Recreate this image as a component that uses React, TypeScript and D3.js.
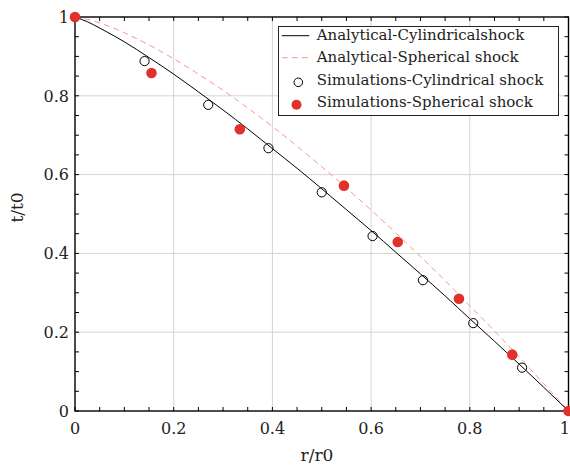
import React from "react";
import * as d3 from "d3";

const rGrid = [0, 0.025, 0.05, 0.1, 0.15, 0.2, 0.25, 0.3, 0.35, 0.4, 0.45, 0.5, 0.55, 0.6, 0.65, 0.7, 0.75, 0.8, 0.85, 0.9, 0.95, 1];
const analyticalCyl = [1, 0.988, 0.972, 0.937, 0.897, 0.855, 0.81, 0.764, 0.716, 0.666, 0.616, 0.564, 0.511, 0.458, 0.403, 0.348, 0.292, 0.234, 0.177, 0.119, 0.06, 0];
const analyticalSph = [1, 0.994, 0.985, 0.96, 0.929, 0.894, 0.855, 0.814, 0.769, 0.722, 0.672, 0.62, 0.566, 0.51, 0.452, 0.392, 0.331, 0.267, 0.203, 0.137, 0.069, 0];

const simCylR = [0.141, 0.27, 0.392, 0.5, 0.603, 0.705, 0.807, 0.906];
const simCylT = [0.888, 0.777, 0.667, 0.555, 0.444, 0.332, 0.223, 0.11];
const simSphR = [0, 0.155, 0.334, 0.545, 0.654, 0.778, 0.886, 1];
const simSphT = [1, 0.858, 0.715, 0.572, 0.429, 0.285, 0.143, 0];

const majorTicks = [0, 0.2, 0.4, 0.6, 0.8, 1];
const tickLabels = ["0", "0.2", "0.4", "0.6", "0.8", "1"];
const minorTicks = d3.range(0, 21).map((i) => i / 20);

const legendLabels = [
  "Analytical-Cylindricalshock",
  "Analytical-Spherical shock",
  "Simulations-Cylindrical shock",
  "Simulations-Spherical shock",
];

const W = 570;
const H = 466;
const L = 75;
const R = 568.5;
const T = 17;
const B = 411;
const RED = "#e0312b";
const DASH = "#f39a94";
const FONT = "DejaVu Serif";

export default function App() {
  const x = d3.scaleLinear().domain([0, 1]).range([L, R]);
  const y = d3.scaleLinear().domain([0, 1]).range([B, T]);
  const line = d3
    .line<number>()
    .x((_, i) => x(rGrid[i]))
    .y((d) => y(d))
    .curve(d3.curveMonotoneX);

  const tl = 4;
  const lx = 278.5;
  const ly = 26.5;
  const rowY = [35.7, 57.7, 80.3, 102.7];

  return (
    <svg width={W} height={H} style={{ position: "absolute", left: 0, top: 0, background: "#fff", fontFamily: FONT }}>
      <rect x={0} y={0} width={W} height={H} fill="#fff" />
      {majorTicks.slice(1, -1).map((v) => (
        <g key={"g" + v}>
          <line x1={x(v)} x2={x(v)} y1={T} y2={B} stroke="#d4d4d4" strokeWidth={1} />
          <line x1={L} x2={R} y1={y(v)} y2={y(v)} stroke="#d4d4d4" strokeWidth={1} />
        </g>
      ))}
      <path d={line(analyticalSph) || ""} fill="none" stroke={DASH} strokeWidth={1} strokeDasharray="6,4" />
      <path d={line(analyticalCyl) || ""} fill="none" stroke="#000" strokeWidth={1} />
      {minorTicks.map((v) => (
        <g key={"t" + v} stroke="#000" strokeWidth={1}>
          <line x1={x(v)} x2={x(v)} y1={B} y2={B - tl} />
          <line x1={x(v)} x2={x(v)} y1={T} y2={T + tl} />
          <line x1={L} x2={L + tl} y1={y(v)} y2={y(v)} />
          <line x1={R} x2={R - tl} y1={y(v)} y2={y(v)} />
        </g>
      ))}
      <rect x={L} y={T} width={R - L} height={B - T} fill="none" stroke="#000" strokeWidth={1.4} />
      {majorTicks.map((v, i) => (
        <text
          key={"xl" + v}
          x={i === majorTicks.length - 1 ? W : x(v)}
          y={434}
          fontSize={16}
          textAnchor={i === majorTicks.length - 1 ? "end" : "middle"}
          fill="#222"
        >
          {tickLabels[i]}
        </text>
      ))}
      {majorTicks.map((v, i) => (
        <text key={"yl" + v} x={69} y={y(v)} dy="0.36em" fontSize={16} textAnchor="end" fill="#222">
          {tickLabels[i]}
        </text>
      ))}
      <text x={317} y={461} fontSize={17} textAnchor="middle" fill="#222">r/r0</text>
      <text transform={`translate(23,207.5) rotate(-90)`} fontSize={17} textAnchor="middle" fill="#222">t/t0</text>
      {simCylR.map((r, i) => (
        <circle key={"c" + i} cx={x(r)} cy={y(simCylT[i])} r={4.6} fill="none" stroke="#000" strokeWidth={1} />
      ))}
      {simSphR.map((r, i) => (
        <circle key={"s" + i} cx={x(r)} cy={y(simSphT[i])} r={5.3} fill={RED} />
      ))}
      <rect x={lx} y={ly} width={280} height={89} fill="#fff" stroke="#222" strokeWidth={1} />
      <line x1={281.7} x2={309.3} y1={rowY[0]} y2={rowY[0]} stroke="#000" strokeWidth={1} />
      <line x1={281.7} x2={309.3} y1={rowY[1]} y2={rowY[1]} stroke={DASH} strokeWidth={1} strokeDasharray="6,4" />
      <circle cx={298.3} cy={rowY[2] + 2} r={4.3} fill="none" stroke="#000" strokeWidth={1} />
      <circle cx={296.5} cy={rowY[3] + 2} r={5} fill={RED} />
      {legendLabels.map((s, i) => (
        <text key={"lg" + i} x={316.7} y={rowY[i]} dy="0.3em" fontSize={15} fill="#222">
          {s}
        </text>
      ))}
    </svg>
  );
}
